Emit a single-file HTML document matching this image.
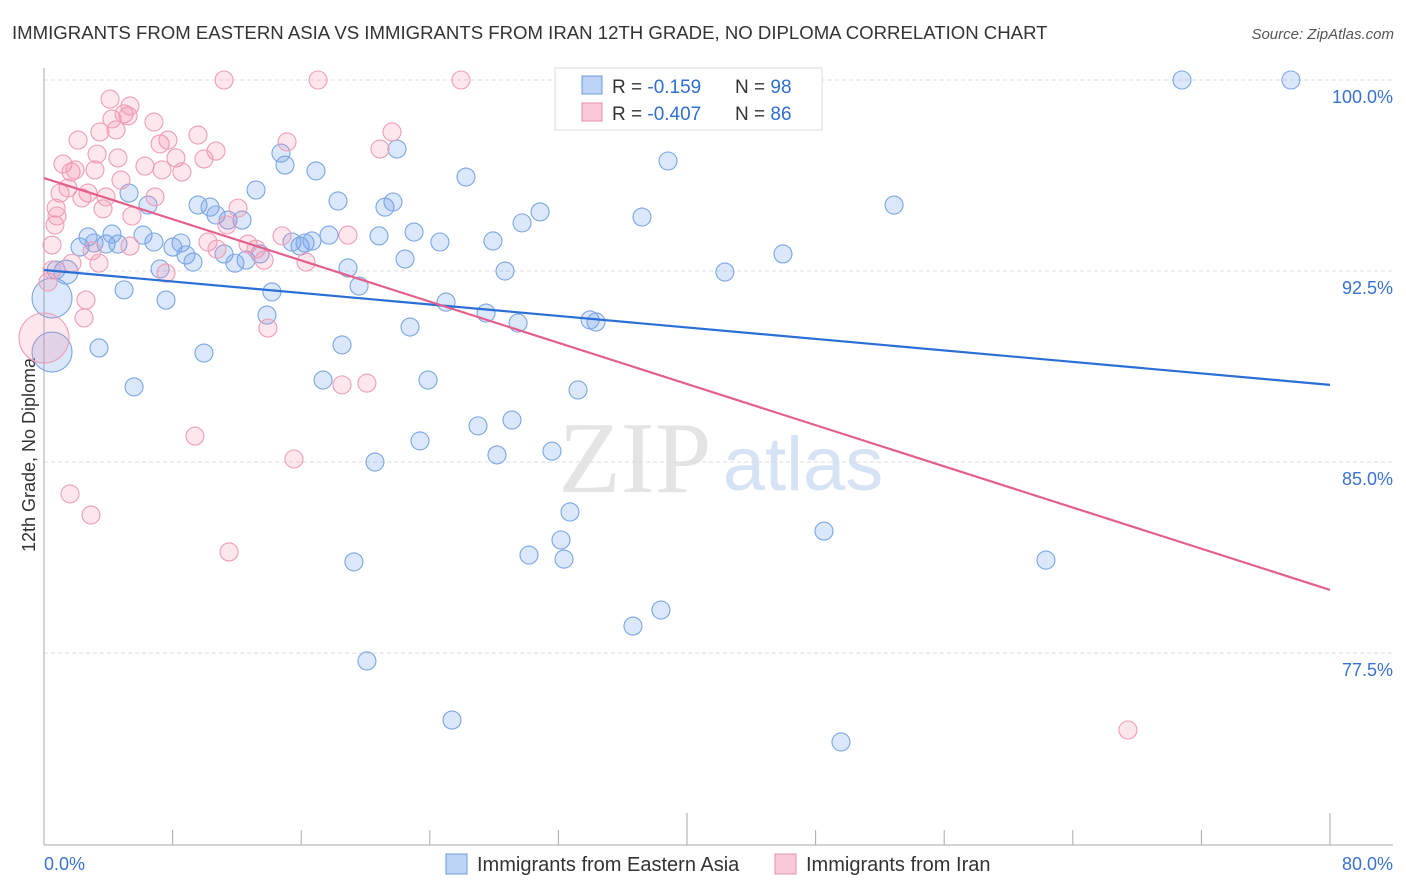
<!DOCTYPE html>
<html><head><meta charset="utf-8"><style>
body{margin:0;background:#fff;font-family:"Liberation Sans",sans-serif}
svg{display:block}
</style></head><body>
<svg id="chart" width="1406" height="892" xmlns="http://www.w3.org/2000/svg">
<text x="12" y="39" font-size="18.6" fill="#333">IMMIGRANTS FROM EASTERN ASIA VS IMMIGRANTS FROM IRAN 12TH GRADE, NO DIPLOMA CORRELATION CHART</text>
<text x="1394" y="39" font-size="15" fill="#555" font-style="italic" text-anchor="end">Source: ZipAtlas.com</text>
<text x="35" y="455" font-size="18" fill="#333" text-anchor="middle" transform="rotate(-90 35 455)">12th Grade, No Diploma</text>
<g><text x="635" y="492" font-size="102" fill="#e4e4e4" font-family="Liberation Serif,serif" text-anchor="middle">ZIP</text><text x="803" y="490" font-size="76" fill="#d6e3f4" text-anchor="middle">atlas</text></g>
<g id="grid"></g><g id="axes"></g><g id="pts"></g><g id="trend"></g>
<g>
<rect x="555" y="68" width="267" height="62" fill="#fff" stroke="#ddd"/>
<rect x="582" y="76" width="20" height="18" fill="#bcd4f5" stroke="#6b9be0"/>
<rect x="582" y="103" width="20" height="18" fill="#fbc8d7" stroke="#ea8fab"/>
<text x="612" y="93" font-size="19" fill="#333">R = <tspan fill="#2f6fd0">-0.159</tspan><tspan x="735">N = </tspan><tspan fill="#2f6fd0">98</tspan></text>
<text x="612" y="120" font-size="19" fill="#333">R = <tspan fill="#2f6fd0">-0.407</tspan><tspan x="735">N = </tspan><tspan fill="#2f6fd0">86</tspan></text>
</g>
<g>
<rect x="446" y="854" width="21" height="20" fill="#bcd4f5" stroke="#6b9be0"/>
<text x="477" y="871" font-size="20" fill="#333">Immigrants from Eastern Asia</text>
<rect x="775" y="854" width="21" height="20" fill="#fbc8d7" stroke="#ea8fab"/>
<text x="806" y="871" font-size="20" fill="#333">Immigrants from Iran</text>
</g>
</svg>
<script>
const yTicks=[100,92.5,85,77.5];
const yTickLabels=["100.0%","92.5%","85.0%","77.5%"];
const xTickLabels=["0.0%","80.0%"];
const blueX=[0.5,0.5,1.37,0.75,2.24,2.74,3.11,3.86,4.23,4.6,5.29,5.6,4.98,3.42,6.16,6.47,6.84,7.22,7.59,8.02,8.52,8.83,9.27,9.58,10.33,9.95,10.7,11.2,11.45,11.88,12.32,12.57,13.19,13.44,13.87,14.18,14.74,14.99,15.43,15.93,16.24,16.67,16.92,17.36,17.73,18.29,18.54,18.91,19.28,19.6,20.09,20.59,20.84,21.21,21.71,21.96,22.46,22.77,23.02,23.39,23.89,24.63,25.01,25.38,26.25,27,27.5,27.93,28.18,28.68,29.11,29.49,29.74,30.17,30.86,31.6,32.16,32.35,32.72,33.22,33.97,34.34,36.64,37.2,38.38,38.82,42.36,45.97,48.52,49.58,52.88,62.33,70.79,77.57,37.82,43.17];
const blueY=[91.44,89.32,92.46,92.54,93.44,93.84,93.6,93.56,93.95,93.56,95.56,87.95,91.76,89.48,93.91,95.09,93.64,92.58,91.36,93.44,93.6,93.13,92.85,95.09,95.01,89.28,94.7,93.17,94.5,92.81,94.5,92.93,95.68,93.17,90.77,91.68,97.13,96.66,93.64,93.48,93.6,93.68,96.43,88.22,93.91,95.25,89.6,92.62,81.08,91.91,77.19,85,93.88,95.01,95.21,97.29,92.97,90.3,94.03,85.83,88.22,93.64,91.28,74.87,96.19,86.42,90.85,93.68,85.28,92.5,86.65,90.46,94.39,81.35,94.82,85.43,81.94,81.19,83.04,87.83,90.58,90.5,78.56,94.62,79.19,96.82,92.46,93.17,82.29,74.01,95.09,81.15,100,100,100,100];
const blueR=[20,20,12];
const pinkX=[0,0.25,0.5,0.5,0.75,0.68,0.81,1,1.18,1.49,1.68,1.62,1.74,1.93,2.12,2.36,2.49,2.61,2.74,2.92,2.99,3.17,3.3,3.42,3.48,3.67,3.86,4.11,4.23,4.48,4.6,4.79,4.98,5.23,5.35,5.47,5.35,6.28,6.84,6.91,7.22,7.34,7.59,7.71,8.21,8.58,9.39,9.58,9.95,10.2,10.7,10.76,11.2,11.38,11.51,12.07,12.69,13.19,13.69,13.93,14.81,15.12,15.55,16.3,17.05,18.54,18.91,20.09,20.9,21.65,25.94,67.43];
const pinkY=[89.87,92.07,92.54,93.52,94.97,94.31,94.66,95.56,96.7,95.76,96.39,83.75,92.81,96.47,97.64,95.37,90.66,91.36,95.56,82.92,93.29,96.47,97.09,92.81,97.96,94.94,95.41,99.25,98.47,98.04,96.94,96.07,98.67,98.59,98.98,94.66,93.48,96.62,98.35,95.41,97.49,96.47,92.42,97.64,96.94,96.39,86.02,97.84,96.9,93.64,97.21,93.36,100,94.31,81.47,94.97,93.56,93.36,92.93,90.26,93.88,97.57,85.12,92.85,100,88.03,93.91,88.1,97.29,97.96,100,74.48];
const pinkR=[25];
const blueTrend=[92.54,88.03];
const pinkTrend=[96.15,79.98];
const X0=44,X1=1330,Y100=80,PX_PER=25.47;
const sx=v=>X0+(v/80)*(X1-X0);
const sy=v=>Y100+(100-v)*PX_PER;
const NS="http://www.w3.org/2000/svg";
function mk(tag,attrs,parent){const e=document.createElementNS(NS,tag);for(const k in attrs)e.setAttribute(k,attrs[k]);document.getElementById(parent).appendChild(e);return e;}
yTicks.forEach((t,i)=>{
 const g=mk('line',{x1:X0,x2:1393,y1:sy(t),y2:sy(t),stroke:'#ddd','stroke-dasharray':'4,3'},'grid');
 
 
 const l=mk('text',{x:1393,y:sy(t)+23,'font-size':18,fill:'#3a72d0','text-anchor':'end'},'grid');
 l.textContent=yTickLabels[i];
 
 
});
const ax=mk('line',{x1:X0,x2:X0,y1:68,y2:845,stroke:'#aaa'},'axes');


const bx=mk('line',{x1:X0,x2:1393,y1:845,y2:845,stroke:'#aaa'},'axes');


for(let i=0;i<=10;i++){const v=i*8;const tk=mk('line',{x1:sx(v),x2:sx(v),y1:(i==5||i==10)?813:830,y2:845,stroke:'#aaa'},'axes');
 
 }
[[0,'start'],[80,'end']].forEach((p,i)=>{const t=mk('text',{x:i?1393:44,y:870,'font-size':18,fill:'#3a72d0','text-anchor':p[1]},'axes');t.textContent=xTickLabels[i];
 
 });
blueX.forEach((x,i)=>{const c=mk('circle',{cx:sx(x),cy:sy(blueY[i]),r:blueR[i]||9,fill:'rgba(110,160,235,0.25)',stroke:'#7aa6e4','stroke-width':1.1},'pts');
 
 });
pinkX.forEach((x,i)=>{const c=mk('circle',{cx:sx(x),cy:sy(pinkY[i]),r:pinkR[i]||9,fill:'rgba(245,140,170,0.22)',stroke:'#ef9db6','stroke-width':1.1},'pts');
 
 });
const bl=mk('line',{x1:sx(0),y1:sy(blueTrend[0]),x2:sx(80),y2:sy(blueTrend[1]),stroke:'#2a6fd6','stroke-width':2.2},'trend');


const pl=mk('line',{x1:sx(0),y1:sy(pinkTrend[0]),x2:sx(80),y2:sy(pinkTrend[1]),stroke:'#e4608c','stroke-width':2.2},'trend');


</script>
</body></html>
